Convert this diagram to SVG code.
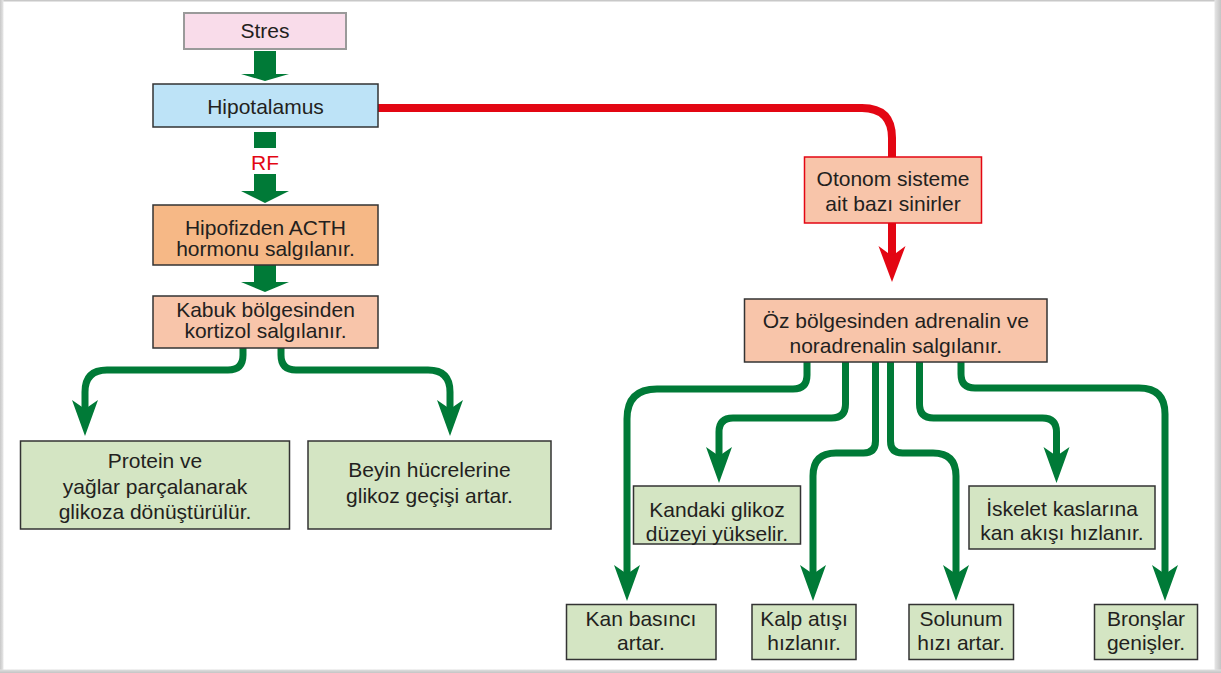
<svg xmlns="http://www.w3.org/2000/svg" xmlns:xlink="http://www.w3.org/1999/xlink" width="1221" height="673" viewBox="0 0 1221 673">
  <defs>
    <style>
      .lbl { font-family: "Liberation Sans", Arial, Helvetica, sans-serif; font-size: 21px; fill: #231f20; text-anchor: middle; }
      .box { stroke: #333333; stroke-width: 1.5; }
      .green { fill: #d4e5c3; }
      .salmon { fill: #f8c5aa; }
      .flow { fill: none; stroke: #007a37; stroke-width: 7; }
      .nerve { fill: none; stroke: #e30613; stroke-width: 8; }
      .block { fill: #007a37; }
    </style>
    <!-- barbed arrowhead, tip at the origin, pointing down -->
    <path id="headG" d="M0 0 L-13 -36 L0 -27 L13 -36 Z" fill="#007a37"/>
    <path id="headR" d="M0 0 L-13.5 -36 L0 -26 L13.5 -36 Z" fill="#e30613"/>
    <linearGradient id="shR" x1="0" y1="0" x2="1" y2="0">
      <stop offset="0" stop-color="#e6e6e6"/>
      <stop offset="1" stop-color="#c4c4c4"/>
    </linearGradient>
    <linearGradient id="shL" x1="0" y1="0" x2="1" y2="0">
      <stop offset="0" stop-color="#c8c8c8"/>
      <stop offset="1" stop-color="#e8e8e8"/>
    </linearGradient>
    <linearGradient id="shB" x1="0" y1="0" x2="0" y2="1">
      <stop offset="0" stop-color="#e0e0e0"/>
      <stop offset="1" stop-color="#c4c4c4"/>
    </linearGradient>
  </defs>

  <!-- page -->
  <rect x="0" y="0" width="1221" height="673" fill="#ffffff"/>
  <rect x="0" y="0" width="1221" height="1.5" fill="#c8c8c8"/>
  <rect x="0" y="0" width="3.5" height="673" fill="url(#shL)"/>
  <rect x="1214.5" y="0" width="6.5" height="673" fill="url(#shR)"/>
  <rect x="0" y="669.5" width="1221" height="3.5" fill="url(#shB)"/>

  <!-- connectors -->
  <g id="connectors">
    <!-- hormonal route -->
    <path class="block" d="M254 51 H276 V74 H289 L265 81 L241 74 H254 Z"/>
    <rect class="block" x="254" y="132" width="22" height="16"/>
    <text class="lbl" x="265" y="170" style="fill:#e30613">RF</text>
    <path class="block" d="M254 174 H276 V191 H289 L265 203 L241 191 H254 Z"/>
    <path class="block" d="M254 265 H276 V282 H289 L265 292 L241 282 H254 Z"/>

    <path class="flow" d="M243 348 V355 Q243 370 228 370 H107 Q85 370 85 392 V410"/>
    <use xlink:href="#headG" x="85" y="436"/>
    <path class="flow" d="M281 348 V355 Q281 370 296 370 H428 Q450 370 450 392 V410"/>
    <use xlink:href="#headG" x="450" y="436"/>

    <!-- nervous route -->
    <path class="nerve" d="M378 108 H862 Q892 108 892 138 V157"/>
    <path class="nerve" d="M892 223 V258"/>
    <use xlink:href="#headR" x="892" y="282"/>

    <path class="flow" d="M807 362 V375 Q807 389 793 389 H657 Q627 389 627 419 V575"/>
    <use xlink:href="#headG" x="627" y="601"/>
    <path class="flow" d="M845.5 362 V404 Q845.5 418 831.5 418 H733 Q719 418 719 432 V457"/>
    <use xlink:href="#headG" x="719" y="483"/>
    <path class="flow" d="M875.5 362 V441 Q875.5 453 863.5 453 H836 Q813 453 813 476 V575"/>
    <use xlink:href="#headG" x="813" y="601"/>
    <path class="flow" d="M890.5 362 V441 Q890.5 453 902.5 453 H933 Q956 453 956 476 V575"/>
    <use xlink:href="#headG" x="956" y="601"/>
    <path class="flow" d="M919.5 362 V404 Q919.5 418 933.5 418 H1042.5 Q1056.5 418 1056.5 432 V457"/>
    <use xlink:href="#headG" x="1056.5" y="483"/>
    <path class="flow" d="M961 362 V374 Q961 388 975 388 H1139 Q1165 388 1165 414 V575"/>
    <use xlink:href="#headG" x="1165" y="601"/>
  </g>

  <!-- nodes -->
  <g id="stres">
    <rect x="184" y="13" width="162" height="36" fill="#f9dcea" stroke="#9a9a9a" stroke-width="2"/>
    <text class="lbl" x="265" y="38">Stres</text>
  </g>
  <g id="hipotalamus">
    <rect class="box" x="153" y="84" width="225" height="43" fill="#bde3f7"/>
    <text class="lbl" x="265.5" y="114">Hipotalamus</text>
  </g>
  <g id="hipofiz">
    <rect class="box" x="153" y="205" width="225" height="60" fill="#f6b886"/>
    <text class="lbl" x="265.5" y="235">Hipofizden ACTH</text>
    <text class="lbl" x="265.5" y="256">hormonu salgılanır.</text>
  </g>
  <g id="kabuk">
    <rect class="box salmon" x="153" y="296" width="225" height="52"/>
    <text class="lbl" x="265.5" y="317">Kabuk bölgesinden</text>
    <text class="lbl" x="265.5" y="338">kortizol salgılanır.</text>
  </g>
  <g id="protein">
    <rect class="box green" x="20.5" y="441" width="269" height="88"/>
    <text class="lbl" x="155" y="468">Protein ve</text>
    <text class="lbl" x="155" y="494">yağlar parçalanarak</text>
    <text class="lbl" x="155" y="519">glikoza dönüştürülür.</text>
  </g>
  <g id="beyin">
    <rect class="box green" x="308" y="441" width="243" height="88"/>
    <text class="lbl" x="429.5" y="477">Beyin hücrelerine</text>
    <text class="lbl" x="429.5" y="503">glikoz geçişi artar.</text>
  </g>
  <g id="otonom">
    <rect x="804.5" y="157" width="177" height="66" fill="#f8c5aa" stroke="#e30613" stroke-width="1.5"/>
    <text class="lbl" x="893" y="186">Otonom sisteme</text>
    <text class="lbl" x="893" y="211">ait bazı sinirler</text>
  </g>
  <g id="oz">
    <rect class="box salmon" x="744.5" y="299" width="302.5" height="63"/>
    <text class="lbl" x="895.75" y="328">Öz bölgesinden adrenalin ve</text>
    <text class="lbl" x="895.75" y="353">noradrenalin salgılanır.</text>
  </g>
  <g id="kandaki">
    <rect class="box green" x="633.5" y="486" width="167" height="58"/>
    <text class="lbl" x="717" y="517">Kandaki glikoz</text>
    <text class="lbl" x="717" y="541">düzeyi yükselir.</text>
  </g>
  <g id="iskelet">
    <rect class="box green" x="969" y="486" width="186" height="63"/>
    <text class="lbl" x="1062" y="516">İskelet kaslarına</text>
    <text class="lbl" x="1062" y="540">kan akışı hızlanır.</text>
  </g>
  <g id="kan-basinci">
    <rect class="box green" x="566.5" y="604.5" width="149.5" height="55"/>
    <text class="lbl" x="641" y="626">Kan basıncı</text>
    <text class="lbl" x="641" y="650">artar.</text>
  </g>
  <g id="kalp">
    <rect class="box green" x="752" y="604.5" width="104" height="55"/>
    <text class="lbl" x="804" y="626">Kalp atışı</text>
    <text class="lbl" x="804" y="650">hızlanır.</text>
  </g>
  <g id="solunum">
    <rect class="box green" x="909" y="604.5" width="104.5" height="55"/>
    <text class="lbl" x="961" y="626">Solunum</text>
    <text class="lbl" x="961" y="650">hızı artar.</text>
  </g>
  <g id="bronslar">
    <rect class="box green" x="1094.5" y="604.5" width="103" height="55"/>
    <text class="lbl" x="1146" y="626">Bronşlar</text>
    <text class="lbl" x="1146" y="650">genişler.</text>
  </g>
</svg>
